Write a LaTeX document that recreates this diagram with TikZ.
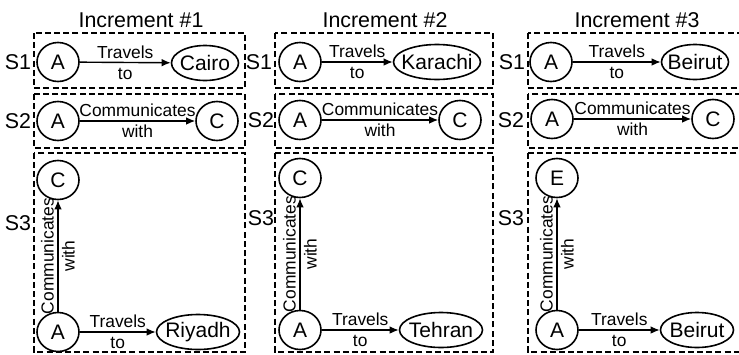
\documentclass[tikz,border=0pt]{standalone}
\usepackage{fontspec}
\setmainfont{Liberation Sans}
\usetikzlibrary{shapes.geometric,arrows.meta}

\begin{document}
\begin{tikzpicture}[x=0.5pt,y=-0.5pt,
  ent/.style={draw,ellipse,inner sep=0.5pt,minimum width=21pt,minimum height=19.5pt,line width=0.8pt,font=\fontsize{10.5}{12}\selectfont},
  city/.style={ent,inner xsep=-4pt,inner ysep=-2pt,minimum height=17.5pt},
  rel/.style={-{Latex[length=4.5pt,width=3.8pt]},line width=0.7pt},
  lbl/.style={align=center,inner sep=0pt,font=\fontsize{8.7}{10.5}\selectfont},
  slot/.style={draw,dash pattern=on 3pt off 1.6pt,line width=1pt},
  title/.style={font=\fontsize{10.7}{12}\selectfont},
  stag/.style={font=\fontsize{10.7}{12}\selectfont}]
\useasboundingbox (0,0) rectangle (739,354);
\clip (0,0) rectangle (739,354);

% increment 1
\node[title] (t1) at (141,20) {Increment \#1};
\draw[slot] (34,33) rectangle (245,88);
\draw[slot] (34,94) rectangle (245,148);
\draw[slot] (34,153) rectangle (245,352);
\node[stag] (s11) at (18,62) {S1};
\node[stag] (s12) at (18,121) {S2};
\node[stag] (s13) at (18,223) {S3};
\node[ent] (a11) at (58,62) {A};
\node[city,minimum width=33.5pt] (cairo) at (205,63) {Cairo};
\draw[rel] (a11) -- node[lbl] {Travels\\to} (cairo);
\node[ent] (a12) at (58,121) {A};
\node[ent] (c12) at (217,121) {C};
\draw[rel] (a12) -- node[lbl] {Communicates\\with} (c12);
\node[ent] (c13) at (58,180) {C};
\node[ent] (a13) at (58,332) {A};
\node[city,minimum width=41.5pt] (riyadh) at (198,332) {Riyadh};
\draw[rel] (a13) -- node[lbl] {Travels\\to} (riyadh);
\draw[rel] (a13) -- node[lbl,rotate=90] {Communicates\\with} (c13);

% increment 2
\node[title] (t2) at (385,20) {Increment \#2};
\draw[slot] (275,33) rectangle (493,88);
\draw[slot] (275,94) rectangle (493,148);
\draw[slot] (275,153) rectangle (493,352);
\node[stag] (s21) at (259,62) {S1};
\node[stag] (s22) at (261,120) {S2};
\node[stag] (s23) at (261,218) {S3};
\node[ent] (a21) at (300,62) {A};
\node[city,minimum width=43.5pt] (karachi) at (437,62) {Karachi};
\draw[rel] (a21) -- node[lbl] {Travels\\to} (karachi);
\node[ent] (a22) at (300,120) {A};
\node[ent] (c22) at (460,120) {C};
\draw[rel] (a22) -- node[lbl] {Communicates\\with} (c22);
\node[ent] (c23) at (300,178) {C};
\node[ent] (a23) at (300,330) {A};
\node[city,minimum width=41.5pt] (tehran) at (441,330) {Tehran};
\draw[rel] (a23) -- node[lbl] {Travels\\to} (tehran);
\draw[rel] (a23) -- node[lbl,rotate=90] {Communicates\\with} (c23);

% increment 3
\node[title] (t3) at (637,20) {Increment \#3};
\draw[slot] (528,33) rectangle (746,88);
\draw[slot] (528,94) rectangle (746,148);
\draw[slot] (528,153) rectangle (746,352);
\node[stag] (s31) at (512,62) {S1};
\node[stag] (s32) at (511,120) {S2};
\node[stag] (s33) at (511,218) {S3};
\node[ent] (a31) at (551,62) {A};
\node[city,minimum width=33.5pt] (beirut1) at (695,62) {Beirut};
\draw[rel] (a31) -- node[lbl] {Travels\\to} (beirut1);
\node[ent] (a32) at (552,119) {A};
\node[ent] (c32) at (713,119) {C};
\draw[rel] (a32) -- node[lbl] {Communicates\\with} (c32);
\node[ent] (e33) at (557,178) {E};
\node[ent] (a33) at (557,330) {A};
\node[city,minimum width=36.5pt] (beirut2) at (697,330) {Beirut};
\draw[rel] (a33) -- node[lbl] {Travels\\to} (beirut2);
\draw[rel] (a33) -- node[lbl,rotate=90] {Communicates\\with} (e33);
\end{tikzpicture}
\end{document}
